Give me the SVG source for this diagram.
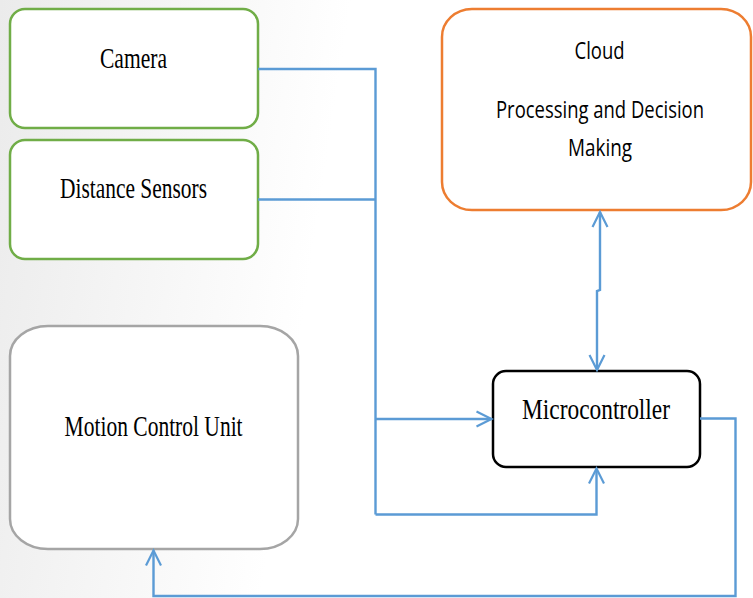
<svg xmlns="http://www.w3.org/2000/svg" width="753" height="598" viewBox="0 0 753 598">
  <defs>
    <linearGradient id="bg" x1="0" y1="0" x2="1" y2="0.12">
      <stop offset="0" stop-color="#ebebeb"/>
      <stop offset="0.46" stop-color="#ffffff"/>
      <stop offset="1" stop-color="#ffffff"/>
    </linearGradient>
    <marker id="arr" markerUnits="userSpaceOnUse" markerWidth="20" markerHeight="20" viewBox="-17 -10 20 20" refX="0" refY="0" orient="auto-start-reverse">
      <path d="M -15 -7.5 L 0 0 L -15 7.5" fill="none" stroke="#5b9bd5" stroke-width="2.2"/>
    </marker>
    <style>
      .box { fill: #ffffff; stroke-width: 2.5; }
      .green { stroke: #70ad47; }
      .orange { stroke: #ed7d31; }
      .grey { stroke: #a5a5a5; }
      .black { stroke: #000000; }
      .serif { font-family: "Liberation Serif", "Times New Roman", serif; font-size: 30px; fill: #000; text-anchor: middle; }
      .sans { font-family: "Open Sans", "Noto Sans", sans-serif; font-size: 24px; fill: #000; text-anchor: middle; }
      .conn { fill: none; stroke: #5b9bd5; stroke-width: 2.4; stroke-linejoin: miter; }
    </style>
  </defs>
  <rect x="0" y="0" width="753" height="598" fill="url(#bg)"/>

  <g id="camera">
    <rect class="box green" x="10" y="9" width="248" height="119" rx="15" ry="15"/>
    <text class="serif" x="133.5" y="68" textLength="67" lengthAdjust="spacingAndGlyphs">Camera</text>
  </g>
  <g id="distance-sensors">
    <rect class="box green" x="10" y="140" width="248" height="119" rx="15" ry="15"/>
    <text class="serif" x="133.5" y="198" textLength="147" lengthAdjust="spacingAndGlyphs">Distance Sensors</text>
  </g>
  <g id="cloud">
    <rect class="box orange" x="442" y="9" width="309" height="201" rx="30" ry="28"/>
    <text class="sans" x="599.5" y="59" textLength="50" lengthAdjust="spacingAndGlyphs">Cloud</text>
    <text class="sans" x="600" y="118" textLength="208" lengthAdjust="spacingAndGlyphs">Processing and Decision</text>
    <text class="sans" x="600" y="156" textLength="64" lengthAdjust="spacingAndGlyphs">Making</text>
  </g>
  <g id="motion-control-unit">
    <rect class="box grey" x="10" y="326" width="288" height="223" rx="38" ry="30"/>
    <text class="serif" x="153.6" y="436" textLength="178" lengthAdjust="spacingAndGlyphs">Motion Control Unit</text>
  </g>
  <g id="microcontroller">
    <rect class="box black" x="493" y="371" width="207" height="96" rx="13" ry="13"/>
    <text class="serif" x="596" y="419" textLength="148" lengthAdjust="spacingAndGlyphs">Microcontroller</text>
  </g>

  <g id="connectors">
    <path class="conn" d="M 258 69 L 375.5 69 L 375.5 514.5"/>
    <path class="conn" d="M 258 199.5 L 375.5 199.5"/>
    <path class="conn" d="M 375.5 419 L 491.5 419" marker-end="url(#arr)"/>
    <path class="conn" d="M 375.5 514.5 L 596.5 514.5 L 596.5 468.5" marker-end="url(#arr)"/>
    <path class="conn" d="M 600 212 L 600 290 L 597 291 L 597 370" marker-start="url(#arr)" marker-end="url(#arr)"/>
    <path class="conn" d="M 700 418.5 L 735.5 418.5 L 735.5 596 L 153.5 596 L 153.5 550.5" marker-end="url(#arr)"/>
  </g>
</svg>
